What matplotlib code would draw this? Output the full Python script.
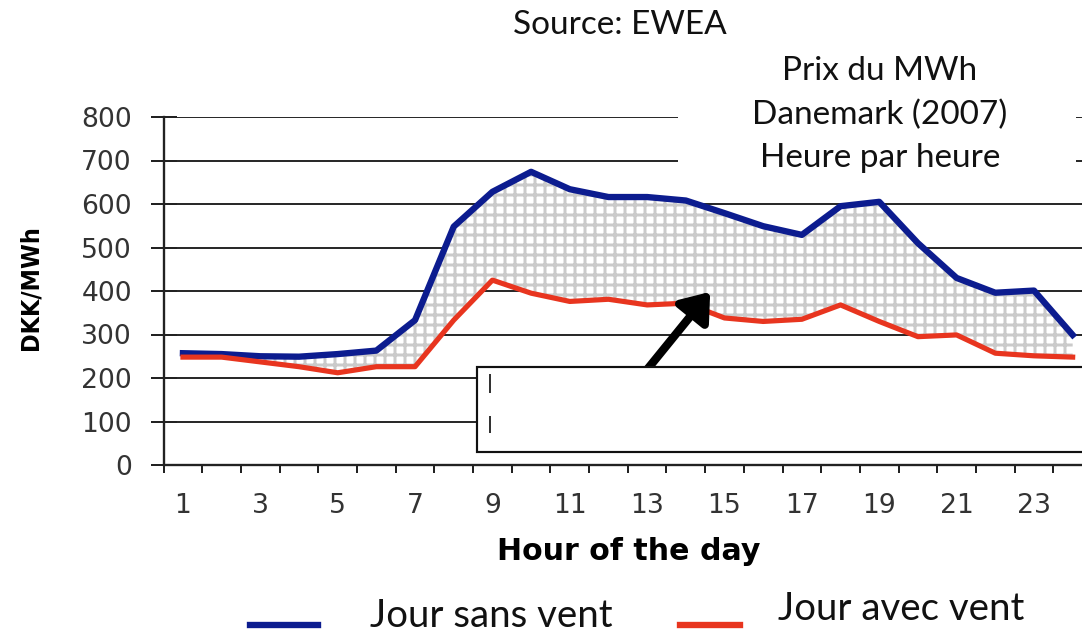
import numpy as np
import matplotlib.pyplot as plt
from matplotlib.patches import Rectangle
from matplotlib.lines import Line2D

# hourly MWh price, Denmark 2007
hours = list(range(1, 25))
sans_vent = [257, 255, 250, 249, 255, 263, 333, 548, 628, 674, 634, 616,
             616, 608, 579, 549, 529, 595, 605, 510, 430, 396, 401, 299]
avec_vent = [248, 248, 237, 226, 212, 226, 226, 333, 425, 395, 376, 381,
             368, 372, 338, 330, 335, 368, 330, 295, 299, 257, 251, 248]
yticks = list(range(0, 900, 100))
xticks = list(range(1, 24, 2))

W, H, DPI = 1082, 633, 120


def fx(px):
    return px / W


def fy(py):
    return 1 - py / H


plt.rcParams['hatch.linewidth'] = 1.8
title_font = ['Lato', 'DejaVu Sans']

fig = plt.figure(figsize=(W / DPI, H / DPI), dpi=DPI)
ax = fig.add_axes([fx(163.6), fy(465), 928.4 / W, 348 / H])

ax.fill_between(hours, avec_vent, sans_vent, facecolor='white',
                edgecolor='#cacaca', hatch='++', linewidth=0, zorder=2)
ax.plot(hours, sans_vent, color='#0c1c8f', lw=3.8, zorder=4,
        solid_joinstyle='round')
ax.plot(hours, avec_vent, color='#e8351f', lw=3.1, zorder=4,
        solid_joinstyle='round')

ax.set_xlim(0.5, 24.5)
ax.set_ylim(0, 800)
ax.set_yticks(yticks)
ax.set_xticks(xticks)
ax.set_xticks(np.arange(0.5, 25, 1), minor=True)
ax.yaxis.grid(True, color='#2a2a2a', lw=1.2)
ax.set_axisbelow(True)

for s in ['top', 'right']:
    ax.spines[s].set_visible(False)
for s in ['left', 'bottom']:
    ax.spines[s].set_color('#222222')
    ax.spines[s].set_linewidth(1.4)

ax.tick_params(axis='x', which='major', length=0, pad=17,
               labelsize=16, labelcolor='#333333')
ax.tick_params(axis='x', which='minor', length=5, width=1.2,
               color='#222222', direction='out')
ax.tick_params(axis='y', length=16, width=1.2, color='#222222',
               direction='inout', pad=11, labelsize=16, labelcolor='#333333')

# arrow pointing into the shaded area
ax.annotate('', xy=(14.63, 398), xytext=(12.95, 214),
            arrowprops=dict(arrowstyle='-|>,head_length=0.6,head_width=0.45',
                            lw=5, color='black', mutation_scale=22,
                            shrinkA=0, shrinkB=0), zorder=5)

# axis titles
fig.text(fx(30), fy(288), 'DKK/MWh', rotation=90, ha='center', va='center',
         fontsize=15, fontweight='bold', fontstretch='condensed',
         family='DejaVu Sans')
fig.text(fx(629), fy(551), 'Hour of the day', ha='center', va='center',
         fontsize=18, fontweight='bold', family='DejaVu Sans')

# white block behind the title text
fig.add_artist(Rectangle((fx(678), fy(178)), (1076 - 678) / W, 140 / H,
                         transform=fig.transFigure, facecolor='white',
                         edgecolor='none', zorder=3))
fig.text(fx(620), fy(34), 'Source: EWEA', ha='center', va='baseline',
         fontsize=20, family=title_font, color='#111111', zorder=4)
for txt, base in [('Prix du MWh', 80), ('Danemark (2007)', 124),
                  ('Heure par heure', 167)]:
    fig.text(fx(880), fy(base), txt, ha='center', va='baseline',
             fontsize=20, family=title_font, color='#111111', zorder=4)

# empty boxed note at lower right
fig.add_artist(Rectangle((fx(477), fy(452)), 700 / W, 85 / H,
                         transform=fig.transFigure, facecolor='white',
                         edgecolor='#111111', lw=1.3, zorder=6))
for y0, y1 in [(375, 392), (417, 432)]:
    fig.add_artist(Line2D([fx(490), fx(490)], [fy(y0), fy(y1)],
                          color='#333333', lw=1.2, zorder=7))

# legend
fig.add_artist(Line2D([fx(250), fx(318)], [fy(625), fy(625)],
                      color='#0c1c8f', lw=3.8))
fig.text(fx(370), fy(627), 'Jour sans vent', ha='left', va='baseline',
         fontsize=23, family=title_font, color='#111111')
fig.add_artist(Line2D([fx(680), fx(740)], [fy(625), fy(625)],
                      color='#e8351f', lw=3.8))
fig.text(fx(778), fy(620), 'Jour avec vent', ha='left', va='baseline',
         fontsize=23, family=title_font, color='#111111')

fig.savefig('out.png', dpi=DPI)
